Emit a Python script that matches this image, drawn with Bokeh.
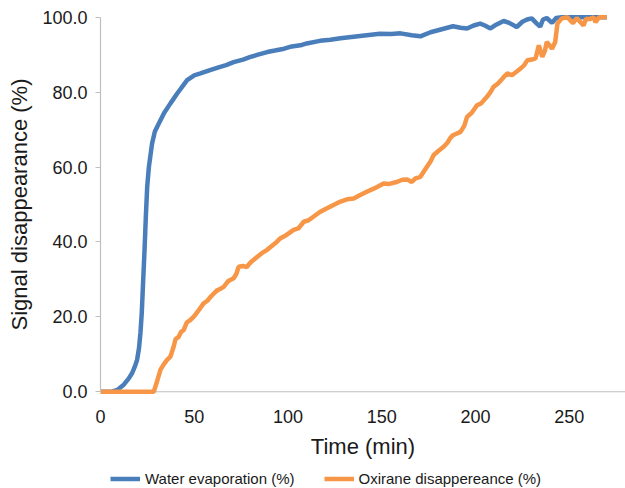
from bokeh.plotting import figure
from bokeh.layouts import column
from bokeh.models import Range1d, Span, Legend, LegendItem, FixedTicker, PrintfTickFormatter
from bokeh.embed import file_html
from bokeh.resources import INLINE

# Water evaporation (%) vs time (min)
water_t = [0, 6, 9, 12.4, 15, 16.9, 18.5, 19.5, 20.5, 21.3, 22, 22.7, 23.5, 24.2, 24.9, 25.8,
           27.5, 29, 31.1, 34, 37.3, 41, 46.2, 50, 53.3, 58, 63, 67, 71, 76, 80, 84, 88.9,
           93, 98, 102, 106.6, 110, 117, 122.6, 128, 135, 142, 149, 155, 160, 166, 170.6,
           176, 182, 188, 192, 195.5, 199, 202.5, 205, 208, 211, 215, 218, 222, 225, 227.5,
           230, 232.7, 234.5, 236, 238, 240.8, 243, 246, 270]
water_v = [0, 0, 0.5, 1.9, 3.5, 5, 7, 8.5, 11.5, 15.7, 21, 29, 38, 47, 54.7, 60,
           66.3, 69.5, 71.6, 74.5, 77, 79.7, 83.2, 84.5, 85, 85.8, 86.6, 87.2, 88, 88.7, 89.4, 90, 90.7,
           91.1, 91.6, 92.2, 92.5, 93, 93.7, 94, 94.4, 94.8, 95.2, 95.6, 95.5, 95.7, 95.2, 94.9,
           96, 96.8, 97.6, 97.2, 97, 97.8, 98.3, 97.8, 97, 98, 99, 98.5, 97.4, 98.8, 99.4,
           99.7, 98.3, 97.5, 99.4, 99.8, 98.5, 99.8, 100, 100]

# Oxirane disappearance (%) vs time (min)
oxi_t = [0, 28.4, 30, 32, 34, 35.5, 37.3, 39, 40, 41.7, 43, 44.4, 46, 48, 50, 52, 55, 57, 59,
         62, 64, 65.7, 68, 71, 72.5, 73.7, 76, 78, 80, 83.5, 86, 88.9, 91, 94, 96, 99, 103,
         105.5, 108.4, 111, 113.7, 117, 120.8, 124, 128, 131.5, 135, 138, 142, 146, 151, 154,
         158, 161, 163.5, 166, 168, 170.6, 172, 174, 176, 177.7, 180, 183, 185, 186.6, 188,
         192, 194, 195.5, 198, 200.8, 203, 206, 208, 209.6, 212, 215, 217, 219.4, 222, 224,
         226, 227.6, 230, 232, 233.8, 235.6, 237, 238, 239.5, 240.8, 242.5, 243.7, 246, 249,
         252, 254, 257.6, 259, 261, 263, 264, 266, 270]
oxi_v = [0, 0, 2.5, 5.9, 7.5, 8.5, 9.4, 12, 14, 14.7, 16, 16.5, 18.5, 19.2, 20.2, 21.5, 23.6, 24.3, 25.5,
         27, 27.5, 28, 29.5, 30.3, 31.5, 33.4, 33.6, 33.3, 34.5, 36, 37, 37.9, 38.8, 40, 41, 41.8, 43.2,
         43.6, 45.4, 45.8, 46.8, 48, 49, 49.8, 50.8, 51.4, 51.6, 52.4, 53.4, 54.3, 55.6, 55.5,
         56, 56.6, 56.7, 56, 57, 57.4, 58.5, 60, 61.5, 63.2, 64.2, 65.4, 66.5, 67.8, 68.5,
         69.4, 71, 73.4, 74.5, 76.5, 77, 78.7, 80, 81.4, 82.3, 84, 85, 84.5, 85.5, 86.3,
         87.2, 88.5, 88.7, 89, 92.5, 89.4, 91, 93.4, 92.5, 91.6, 93.4, 98.3, 99.7, 100,
         98.4, 99.8, 97.8, 99.6, 99.5, 100, 98.7, 100, 100]

series_names = ["Water evaporation (%)", "Oxirane disappereance (%)"]
x_ticks = [0, 50, 100, 150, 200, 250]
y_ticks = [0, 20, 40, 60, 80, 100]

FONT = "Liberation Sans"
TXT = "#1a1a1a"
BLUE = "#4a7ebb"
ORANGE = "#f79646"
AXIS_GRAY = "#bfbfbf"

p = figure(frame_width=525, frame_height=382, output_backend="svg", toolbar_location=None,
           x_range=Range1d(0, 280), y_range=Range1d(-1, 101),
           min_border_left=100, min_border_right=0, min_border_top=13, min_border_bottom=68)
p.outline_line_color = None
p.xgrid.grid_line_color = None
p.ygrid.grid_line_color = None

r1 = p.line(water_t, water_v, line_color=BLUE, line_width=4.5)
r2 = p.line(oxi_t, oxi_v, line_color=ORANGE, line_width=4.5)

# x axis line at y = 0
p.add_layout(Span(location=0, dimension="width", line_color=AXIS_GRAY, line_width=1.2, level="underlay"))

xa = p.xaxis[0]
xa.ticker = FixedTicker(ticks=x_ticks)
xa.axis_line_color = None
xa.major_tick_line_color = None
xa.minor_tick_line_color = None
xa.major_label_text_font = FONT
xa.major_label_text_font_size = "18px"
xa.major_label_text_color = TXT
xa.major_label_standoff = 8
xa.axis_label = "Time (min)"
xa.axis_label_text_font = FONT
xa.axis_label_text_font_size = "22px"
xa.axis_label_text_font_style = "normal"
xa.axis_label_text_color = TXT
xa.axis_label_standoff = 8

ya = p.yaxis[0]
ya.ticker = FixedTicker(ticks=y_ticks)
ya.formatter = PrintfTickFormatter(format="%.1f")
ya.bounds = (0, 100)
ya.axis_line_color = AXIS_GRAY
ya.axis_line_width = 1.2
ya.major_tick_line_color = AXIS_GRAY
ya.major_tick_in = 0
ya.major_tick_out = 5
ya.minor_tick_line_color = None
ya.major_label_text_font = FONT
ya.major_label_text_font_size = "18px"
ya.major_label_text_color = TXT
ya.major_label_standoff = 8
ya.axis_label = "Signal disappearance (%)"
ya.axis_label_text_font = FONT
ya.axis_label_text_font_size = "22px"
ya.axis_label_text_font_style = "normal"
ya.axis_label_text_color = TXT
ya.axis_label_standoff = 7

# legend strip below the chart (its own lines lie outside its view; only the legend shows)
lg = figure(width=625, height=25, output_backend="svg", toolbar_location=None,
            x_axis_type=None, y_axis_type=None, x_range=Range1d(-20, -10), y_range=Range1d(0, 1),
            min_border_left=0, min_border_right=0, min_border_top=0, min_border_bottom=0)
lg.outline_line_color = None
lg.xgrid.grid_line_color = None
lg.ygrid.grid_line_color = None
k1 = lg.line(water_t, water_v, line_color=BLUE, line_width=4.5)
k2 = lg.line(oxi_t, oxi_v, line_color=ORANGE, line_width=4.5)
legend = Legend(items=[LegendItem(label=series_names[0], renderers=[k1]),
                       LegendItem(label=series_names[1], renderers=[k2])],
                orientation="horizontal", location=(10, 1),
                border_line_color=None, background_fill_alpha=0,
                label_text_font=FONT, label_text_font_size="15px", label_text_color=TXT,
                glyph_width=30, glyph_height=15, label_standoff=5, spacing=29,
                padding=0, margin=0, label_height=15)
lg.add_layout(legend, "center")

layout = column(p, lg, spacing=0)
open("out.html", "w").write(file_html(layout, INLINE))
